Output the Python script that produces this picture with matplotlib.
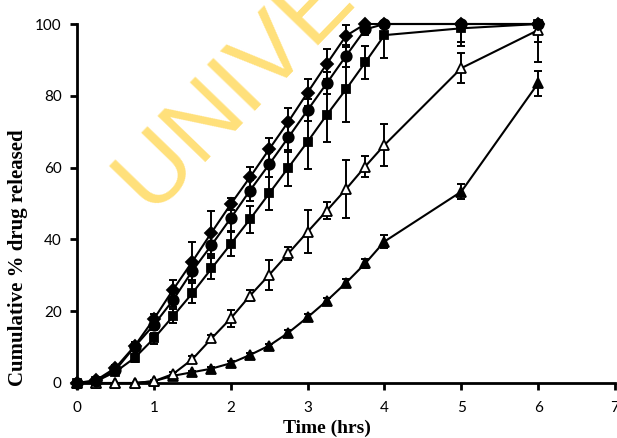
import matplotlib
matplotlib.use('Agg')
import matplotlib.pyplot as plt

time_hrs = [0, 0.25, 0.5, 0.75, 1, 1.25, 1.5, 1.75, 2, 2.25, 2.5, 2.75, 3, 3.25, 3.5, 3.75, 4, 5, 6]

diamond = [0, 0.8, 4.2, 10.3, 17.8, 26.0, 33.8, 41.9, 49.8, 57.3, 65.1, 72.8, 80.9, 88.9, 96.7, 100, 100, 100, 100]
diamond_err = [0, 0.3, 0.8, 1.2, 1.5, 2.8, 5.4, 6.0, 1.7, 3.0, 3.2, 3.7, 3.8, 4.2, 3.0, 0.5, 0, 0, 0]

circle = [0, 0.5, 3.6, 10.1, 16.2, 23.1, 31.2, 38.4, 45.9, 53.6, 60.9, 68.4, 76.0, 83.5, 91.1, 98.5, 100, 100, 100]
circle_err = [0, 0.3, 0.8, 1.2, 1.5, 2.0, 2.5, 3.0, 3.5, 3.0, 3.5, 4.0, 3.0, 3.0, 3.0, 1.5, 1.0, 5.0, 0.5]

square = [0, 0.5, 3.1, 7.0, 12.4, 18.6, 25.0, 31.9, 38.7, 45.6, 52.8, 60.0, 67.2, 74.7, 81.8, 89.3, 96.9, 98.8, 100]
square_err = [0, 0.3, 0.8, 1.2, 1.5, 2.0, 2.8, 2.8, 3.3, 3.7, 4.5, 5.0, 7.6, 7.6, 9.0, 4.5, 6.3, 5.0, 5.0]

open_tri = [0, 0, 0, 0, 0.5, 2.5, 6.6, 12.4, 18.0, 24.3, 30.1, 36.1, 42.1, 48.0, 54.0, 60.3, 66.3, 87.7, 98.3]
open_tri_err = [0, 0, 0, 0, 0.3, 0.5, 0.8, 1.0, 2.3, 1.5, 4.1, 1.9, 6.0, 2.3, 8.1, 3.0, 5.9, 4.2, 9.0]

filled_tri = [0, 0, 0, 0, 0.5, 2.0, 3.0, 4.0, 5.5, 7.8, 10.4, 14.0, 18.3, 22.9, 27.9, 33.3, 39.4, 53.3, 83.5]
filled_tri_err = [0, 0, 0, 0, 0.2, 0.3, 0.3, 0.5, 0.5, 0.5, 0.6, 0.8, 0.8, 0.8, 1.0, 1.2, 1.8, 2.0, 3.5]

x_ticks = [0, 1, 2, 3, 4, 5, 6, 7]
y_ticks = [0, 20, 40, 60, 80, 100]

W, H = 617, 438
fig = plt.figure(figsize=(W / 100, H / 100), dpi=100)
ax = fig.add_axes([77 / W, 1 - 383 / H, 538 / W, 359 / H])

series = [
    (filled_tri, filled_tri_err, '^', 'black', 7),
    (open_tri, open_tri_err, '^', 'white', 7),
    (square, square_err, 's', 'black', 6),
    (circle, circle_err, 'o', 'black', 7.5),
    (diamond, diamond_err, 'D', 'black', 6),
]
for vals, err, mk, fc, ms in series:
    ax.errorbar(time_hrs, vals, yerr=err, fmt='none', ecolor='black',
                elinewidth=1.4, capsize=3, capthick=1.4, zorder=2)
    ax.plot(time_hrs, vals, color='black', lw=1.5, marker=mk, markersize=ms,
            markerfacecolor=fc, markeredgecolor='black', markeredgewidth=1.3,
            clip_on=False, zorder=3)

ax.set_xlim(0, 7)
ax.set_ylim(0, 100)
ax.set_xticks(x_ticks)
ax.set_yticks(y_ticks)
for s in ['top', 'right']:
    ax.spines[s].set_visible(False)
for s in ['left', 'bottom']:
    ax.spines[s].set_linewidth(2)
ax.tick_params(direction='out', length=5, width=2, labelsize=11)
ax.tick_params(axis='x', pad=8)
ax.tick_params(axis='y', pad=6)
for lbl in ax.get_xticklabels() + ax.get_yticklabels():
    lbl.set_family('Lato')

# axis titles placed in figure pixels, as in the reference
fig.text(327 / W, 1 - 428 / H, 'Time (hrs)', family='Liberation Serif', fontweight='bold',
         fontsize=14, ha='center', va='center')
fig.text(18 / W, 1 - 258 / H, 'Cumulative % drug released', family='Liberation Serif',
         fontweight='bold', fontsize=15, rotation=90, ha='center', va='center')

# watermark
fig.text(150 / W, 1 - 212 / H, 'UNIVERSITY', color='#ffe07a', fontsize=70,
         family='Liberation Sans', rotation=46, rotation_mode='anchor',
         ha='left', va='baseline', zorder=10)

fig.savefig('out.png', dpi=100)
